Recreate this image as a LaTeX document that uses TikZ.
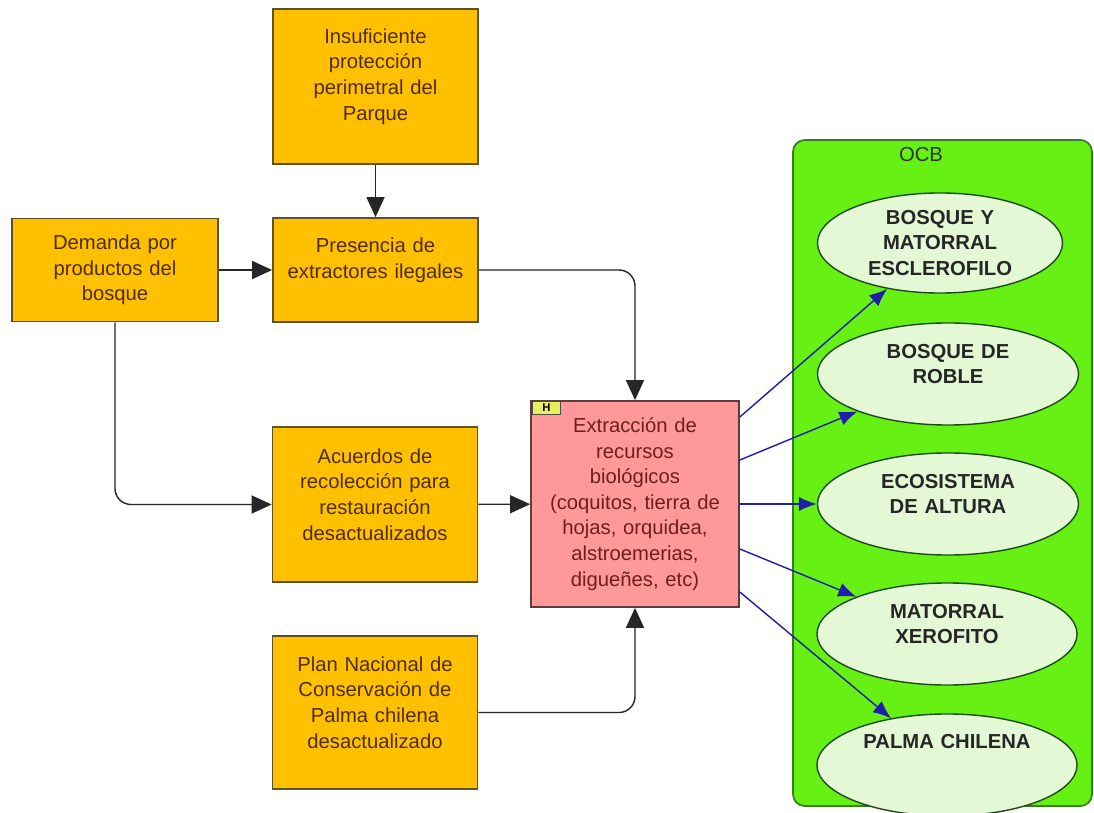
\documentclass[tikz,border=0pt]{standalone}
\usepackage{fontspec}
\setmainfont{Liberation Sans}
\usetikzlibrary{arrows.meta, shapes.geometric}

\definecolor{causafill}{RGB}{255,192,0}
\definecolor{causaline}{RGB}{95,80,40}
\definecolor{causatext}{RGB}{80,45,0}
\definecolor{amenazafill}{RGB}{255,153,153}
\definecolor{amenazaline}{RGB}{95,60,60}
\definecolor{amenazatext}{RGB}{110,30,30}
\definecolor{ocbfill}{RGB}{102,240,20}
\definecolor{ocbline}{RGB}{55,125,35}
\definecolor{objfill}{RGB}{228,248,214}
\definecolor{objline}{RGB}{30,75,30}
\definecolor{efectoblue}{RGB}{30,30,170}
\definecolor{tagfill}{RGB}{232,240,96}

\tikzset{
  lift/.style={execute at end node={\par\vspace{#1}}},
  causa/.style={draw=causaline, line width=1.2pt, fill=causafill, text=causatext,
    minimum width=5.125cm, text width=4.8cm, align=center,
    font=\fontsize{14.4}{18.2}\selectfont},
  amenaza/.style={causa, draw=amenazaline, fill=amenazafill, text=amenazatext,
    minimum width=5.2cm, minimum height=5.15cm},
  objeto/.style={ellipse, draw=objline, line width=1pt, fill=objfill, text=black!85,
    minimum width=6.525cm, minimum height=2.55cm, text width=4.2cm, align=center,
    inner sep=0pt, font=\bfseries\fontsize{14.4}{18}\selectfont},
  flecha/.style={-{Triangle[length=0.5cm,width=0.45cm]}, line width=1pt, black!85},
  efecto/.style={-{Latex[length=0.45cm,width=0.36cm]}, line width=1pt, efectoblue}
}

\begin{document}
\begin{tikzpicture}[x=0.025cm, y=-0.025cm]
    \path[use as bounding box, fill=white] (0,0) rectangle (1094,813);
    % OCB
    \node [draw=ocbline, line width=1.2pt, fill=ocbfill, rounded corners=0.3cm,
           minimum width=7.475cm, minimum height=16.65cm] (ocb) at (942.5,473) {};
    \node [text=black!80, font=\fontsize{14.4}{18}\selectfont] (ocblabel) at (921,155) {OCB};
    \node [objeto, minimum width=6.125cm, minimum height=2.5cm] (bosque) at (940,243)
          {BOSQUE Y\\ MATORRAL\\ ESCLEROFILO};
    \node [objeto, lift=0.5cm] (roble)  at (948,374) {BOSQUE DE\\ ROBLE};
    \node [objeto, lift=0.5cm] (altura) at (948,504) {ECOSISTEMA\\ DE ALTURA};
    \node [objeto, lift=0.5cm, minimum width=6.5cm] (xerofito) at (947,634) {MATORRAL\\ XEROFITO};
    \node [objeto, lift=1.15cm, minimum width=6.5cm] (palma) at (947,765) {PALMA CHILENA};
    % causas
    \node [causa, minimum height=3.875cm, lift=0.5cm] (insuf) at (375.5,86.5)
          {Insuficiente\\ protección\\ perimetral del\\ Parque};
    \node [causa, minimum width=5.15cm, minimum height=2.575cm] (demanda) at (115,270)
          {Demanda por\\ productos del\\ bosque};
    \node [causa, minimum height=2.6cm, lift=0.5cm] (presencia) at (375.5,270)
          {Presencia de\\ extractores ilegales};
    \node [causa, minimum height=3.875cm, lift=0.5cm] (acuerdos) at (375,504.5)
          {Acuerdos de\\ recolección para\\ restauración\\ desactualizados};
    \node [causa, minimum height=3.825cm, lift=0.5cm] (plan) at (375,712.5)
          {Plan Nacional de\\ Conservación de\\ Palma chilena\\ desactualizado};
    % amenaza
    \node [amenaza] (extr) at (635,504)
          {Extracción de\\ recursos\\ biológicos\\ (coquitos, tierra de\\ hojas, orquidea,\\ alstroemerias,\\ digueñes, etc)};
    \node [draw=black!70, fill=tagfill, anchor=north west, minimum width=0.7cm,
           minimum height=0.32cm, inner sep=0pt, font=\bfseries\fontsize{8}{8}\selectfont]
          (htag) at ([xshift=0.05cm,yshift=-0.03cm]extr.north west) {H};
    % flechas
    \draw [flecha] (insuf) -- (presencia);
    \draw [flecha] (demanda) -- (presencia);
    \draw [flecha, rounded corners=0.4cm] (demanda.south) |- (acuerdos.west);
    \draw [flecha, rounded corners=0.4cm] (presencia.east) -| (extr.north);
    \draw [flecha] (acuerdos) -- (extr);
    \draw [flecha, rounded corners=0.4cm] (plan.east) -| (extr.south);
    % efectos
    \draw [efecto] ([yshift=2.175cm]extr.east) -- (bosque);
    \draw [efecto] ([yshift=1.1cm]extr.east) -- (roble);
    \draw [efecto] (extr.east) -- (altura);
    \draw [efecto] ([yshift=-1.125cm]extr.east) -- (xerofito);
    \draw [efecto] ([yshift=-2.2cm]extr.east) -- (palma);
\end{tikzpicture}
\end{document}
